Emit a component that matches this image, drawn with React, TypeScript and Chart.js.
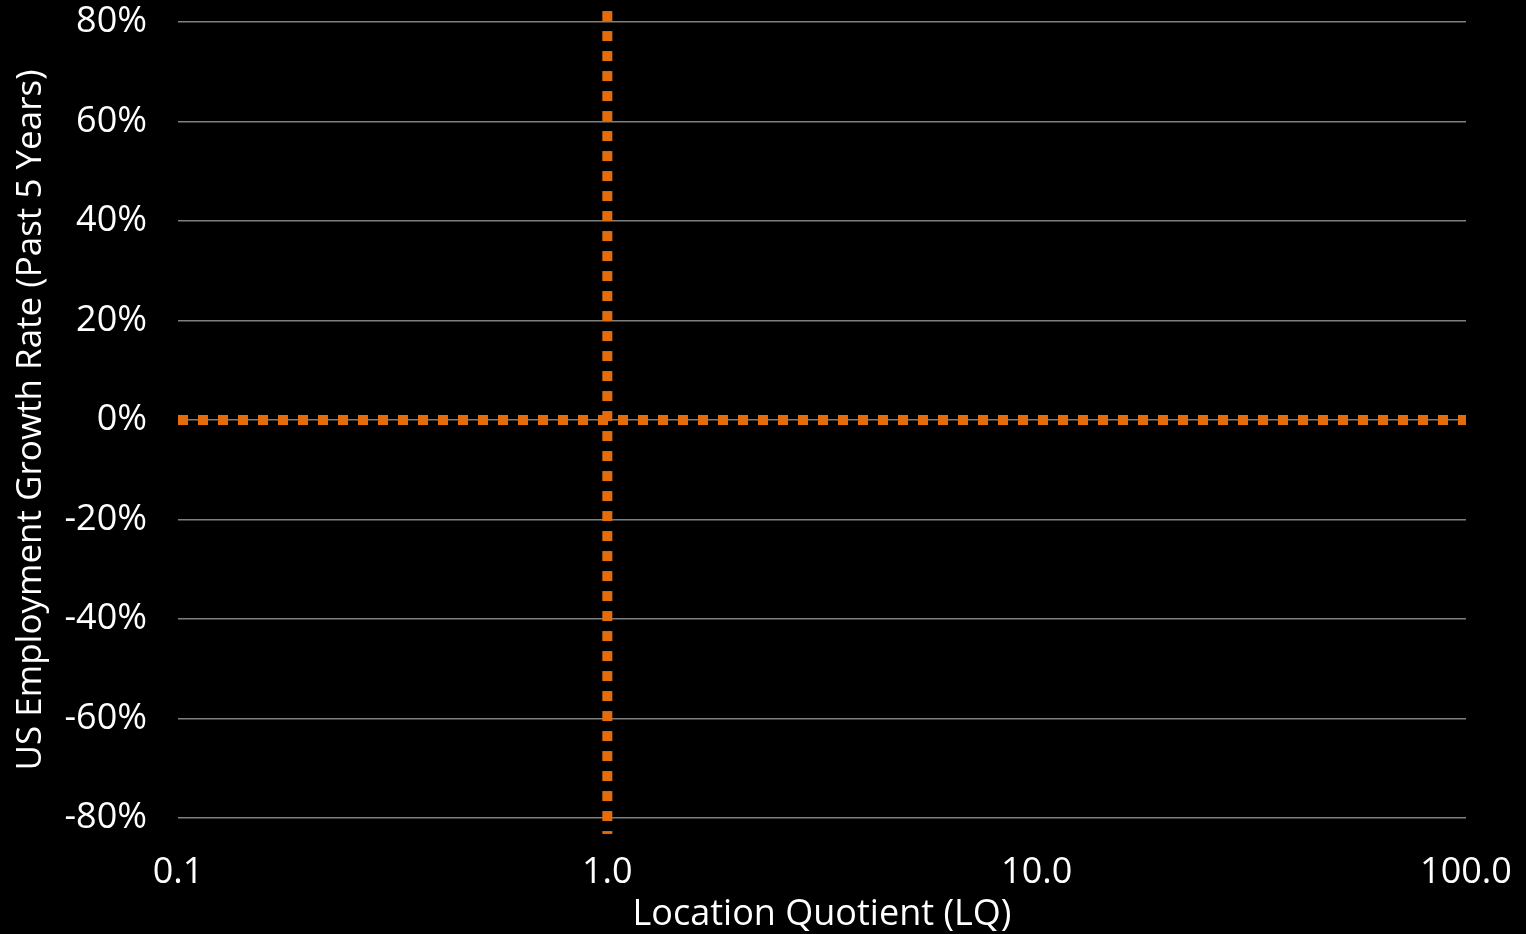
import React, { useEffect, useRef } from "react";
import { Chart, registerables } from "chart.js";

Chart.register(...registerables);

// Reference lines (LQ = 1, growth = 0%)
const lqReferenceX = [1.0, 1.0];
const lqReferenceY = [0.822, -0.832];
const zeroGrowthX = [0.1, 100];
const zeroGrowthY = [0, 0];

// Axis ticks
const xTickValues = [0.1, 1, 10, 100];
const yTickValues = [-0.8, -0.6, -0.4, -0.2, 0, 0.2, 0.4, 0.6, 0.8];

const FONT = "'Open Sans', Lato, 'DejaVu Sans', sans-serif";
const ORANGE = "#E46C0A";

const zeroPadding = (scale: any) => {
  scale.paddingTop = 0;
  scale.paddingBottom = 0;
  scale.paddingLeft = 0;
  scale.paddingRight = 0;
};

export default function App() {
  const canvasRef = useRef<HTMLCanvasElement | null>(null);

  useEffect(() => {
    const canvas = canvasRef.current;
    if (!canvas) return;
    const chart = new Chart(canvas, {
      type: "scatter",
      data: {
        datasets: [
          {
            label: "Zero growth",
            data: zeroGrowthX.map((x, i) => ({ x, y: zeroGrowthY[i] })),
            showLine: true,
            borderColor: ORANGE,
            borderWidth: 10,
            borderDash: [10, 10],
            borderCapStyle: "butt",
            pointRadius: 0,
            clip: false as any,
          },
          {
            label: "LQ = 1",
            data: lqReferenceX.map((x, i) => ({ x, y: lqReferenceY[i] })),
            showLine: true,
            borderColor: ORANGE,
            borderWidth: 10,
            borderDash: [10, 10],
            borderCapStyle: "butt",
            pointRadius: 0,
            clip: false as any,
          },
        ],
      },
      options: {
        animation: false,
        responsive: false,
        devicePixelRatio: 1,
        layout: { padding: { top: 22, right: 60, left: 0, bottom: 0 } },
        plugins: {
          legend: { display: false },
          tooltip: { enabled: false },
        },
        scales: {
          x: {
            type: "logarithmic",
            min: 0.1,
            max: 100,
            grid: { display: false, drawTicks: false },
            border: { display: false },
            afterBuildTicks: (scale: any) => {
              scale.ticks = xTickValues.map((v) => ({ value: v }));
            },
            afterFit: (scale: any) => {
              scale.height = 116;
              zeroPadding(scale);
            },
            ticks: {
              color: "#ffffff",
              font: { family: FONT, size: 36 },
              padding: 33,
              autoSkip: false,
              maxRotation: 0,
              callback: (v: any) => Number(v).toFixed(1),
            },
            title: {
              display: true,
              text: "Location Quotient (LQ)",
              color: "#ffffff",
              font: { family: FONT, size: 36, lineHeight: 1 },
              padding: { top: 0, bottom: 1 },
            },
          },
          y: {
            type: "linear",
            min: -0.8,
            max: 0.8,
            grid: { color: "#7f7f7f", lineWidth: 1.5, drawTicks: false },
            border: { display: false },
            afterBuildTicks: (scale: any) => {
              scale.ticks = yTickValues.map((v) => ({ value: v }));
            },
            afterFit: (scale: any) => {
              scale.width = 178;
              zeroPadding(scale);
            },
            ticks: {
              color: "#ffffff",
              font: { family: FONT, size: 36 },
              padding: 31,
              callback: (v: any) => `${Math.round(Number(v) * 100)}%`,
            },
            title: {
              display: true,
              text: "US Employment Growth Rate (Past 5 Years)",
              color: "#ffffff",
              font: { family: FONT, size: 35 },
              padding: { top: 10, bottom: 0 },
            },
          },
        },
      },
    });
    return () => chart.destroy();
  }, []);

  return (
    <div
      style={{
        position: "fixed",
        left: 0,
        top: 0,
        width: 1526,
        height: 934,
        background: "#000000",
      }}
    >
      <canvas ref={canvasRef} width={1526} height={934} style={{ display: "block" }} />
    </div>
  );
}
